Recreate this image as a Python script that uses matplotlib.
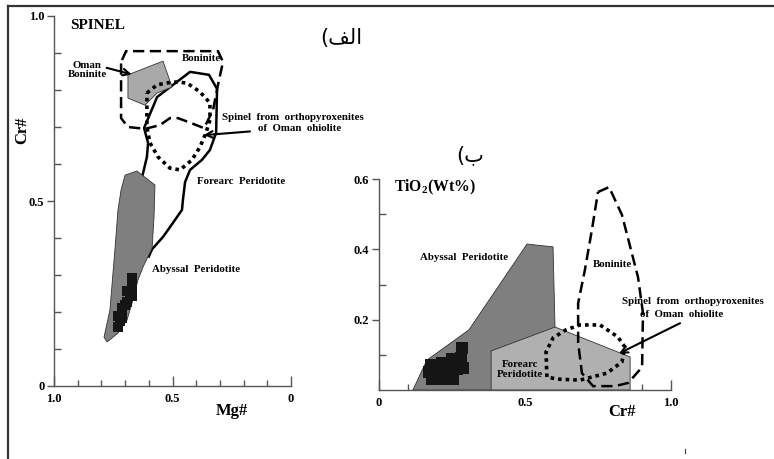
import matplotlib
matplotlib.use("Agg")
import matplotlib.pyplot as plt
from matplotlib.lines import Line2D

plt.rcParams["font.family"] = ["Liberation Serif", "DejaVu Serif"]
plt.rcParams["font.weight"] = "bold"
plt.rcParams["mathtext.fontset"] = "custom"
plt.rcParams["mathtext.rm"] = "Liberation Serif:bold"
plt.rcParams["mathtext.it"] = "Liberation Serif:bold"
plt.rcParams["mathtext.bf"] = "Liberation Serif:bold"

# ---------------- Panel A: Mg# vs Cr# (spinel) ----------------
boninite_a_mg = [0.713, 0.696, 0.308, 0.287, 0.308, 0.329, 0.367, 0.435, 0.477,
                 0.511, 0.553, 0.616, 0.688, 0.717, 0.717]
boninite_a_cr = [0.881, 0.905, 0.905, 0.876, 0.814, 0.746, 0.697, 0.714, 0.724,
                 0.724, 0.705, 0.695, 0.700, 0.724, 0.876]

oman_bon_mg = [0.688, 0.540, 0.502, 0.565, 0.616, 0.688]
oman_bon_cr = [0.841, 0.878, 0.808, 0.792, 0.759, 0.778]

forearc_a_mg = [0.640, 0.624, 0.608, 0.603, 0.620, 0.565, 0.426, 0.346, 0.312,
                0.316, 0.342, 0.376, 0.426, 0.447, 0.456, 0.460, 0.498, 0.540,
                0.586, 0.600]
forearc_a_cr = [0.540, 0.576, 0.619, 0.657, 0.697, 0.781, 0.849, 0.841, 0.803,
                0.684, 0.638, 0.611, 0.584, 0.551, 0.503, 0.476, 0.441, 0.403,
                0.370, 0.350]

opx_a_mg = [0.608, 0.565, 0.498, 0.439, 0.384, 0.342, 0.342, 0.359, 0.384,
            0.418, 0.468, 0.511, 0.561, 0.595, 0.608, 0.608]
opx_a_cr = [0.792, 0.814, 0.822, 0.819, 0.795, 0.765, 0.719, 0.684, 0.646,
            0.611, 0.584, 0.589, 0.619, 0.657, 0.700, 0.754]

abyssal_a_mg = [0.700, 0.650, 0.574, 0.578, 0.586, 0.624, 0.646, 0.667, 0.692,
                0.730, 0.776, 0.789, 0.764, 0.743, 0.730, 0.717]
abyssal_a_cr = [0.570, 0.581, 0.543, 0.457, 0.373, 0.322, 0.286, 0.232, 0.178,
                0.143, 0.119, 0.132, 0.205, 0.368, 0.476, 0.530]

samples_a_mg = [0.669, 0.669, 0.669, 0.680, 0.692, 0.692, 0.700, 0.711, 0.711,
                0.720, 0.730, 0.730]
samples_a_cr = [0.292, 0.265, 0.243, 0.250, 0.257, 0.227, 0.220, 0.211, 0.184,
                0.175, 0.189, 0.160]

# ---------------- Panel B: Cr# vs TiO2 ----------------
abyssal_b_cr = [0.116, 0.164, 0.308, 0.507, 0.596, 0.603, 0.603]
abyssal_b_ti = [0.000, 0.085, 0.171, 0.415, 0.407, 0.171, 0.000]

forearc_b_cr = [0.384, 0.384, 0.603, 0.860, 0.860]
forearc_b_ti = [0.000, 0.111, 0.179, 0.094, 0.000]

boninite_b_cr = [0.750, 0.788, 0.832, 0.887, 0.904, 0.901, 0.853, 0.808, 0.733,
                 0.695, 0.682, 0.682, 0.705, 0.729]
boninite_b_ti = [0.563, 0.577, 0.498, 0.321, 0.219, 0.065, 0.020, 0.011, 0.011,
                 0.048, 0.134, 0.247, 0.341, 0.455]

opx_b_cr = [0.575, 0.572, 0.596, 0.640, 0.688, 0.757, 0.818, 0.842, 0.832,
            0.781, 0.688, 0.610]
opx_b_ti = [0.037, 0.108, 0.148, 0.171, 0.185, 0.185, 0.151, 0.122, 0.080,
            0.048, 0.028, 0.031]

samples_b_cr = [0.178, 0.172, 0.180, 0.197, 0.216, 0.212, 0.220, 0.233, 0.250,
                0.246, 0.252, 0.267, 0.284, 0.280, 0.286]
samples_b_ti = [0.071, 0.050, 0.031, 0.050, 0.077, 0.054, 0.031, 0.050, 0.088,
                0.058, 0.030, 0.060, 0.119, 0.090, 0.062]

W, H = 774, 459
fig = plt.figure(figsize=(W / 100, H / 100), dpi=100)
fig.patch.set_facecolor("white")

# frame lines along top and left
fig.add_artist(Line2D([8 / W, 1.0], [1 - 6 / H, 1 - 6 / H], color="#333333", lw=1.6,
                      transform=fig.transFigure))
fig.add_artist(Line2D([8 / W, 8 / W], [0.0, 1 - 6 / H], color="#333333", lw=1.6,
                      transform=fig.transFigure))
fig.add_artist(Line2D([685 / W, 685 / W], [1 - 449 / H, 1 - 453 / H], color="#444444",
                      lw=0.8, transform=fig.transFigure))

DARK = "#7f7f7f"
LIGHT = "#b0b0b0"
SQ = "#151515"
dash = (0, (4.5, 2.2))
dots = (0, (1, 1.1))
LBL = 7.8


def style_axes(ax):
    for s in ("top", "right"):
        ax.spines[s].set_visible(False)
    for s in ("left", "bottom"):
        ax.spines[s].set_color("#555555")
        ax.spines[s].set_linewidth(1.0)
    ax.tick_params(axis="y", which="major", direction="out", length=5, width=1,
                   color="#555555", labelsize=9, pad=2)
    ax.tick_params(axis="y", which="minor", direction="in", length=5, width=1,
                   color="#555555")
    ax.tick_params(axis="x", which="major", direction="in", length=7, width=1,
                   color="#555555", labelsize=9, pad=5)
    ax.tick_params(axis="x", which="minor", direction="in", length=4, width=1,
                   color="#555555")
    ax.set_facecolor("none")


# ---------- Panel A ----------
ax1 = fig.add_axes([54 / W, (H - 386) / H, 237 / W, 370 / H])
ax1.set_xlim(1.0, 0.0)
ax1.set_ylim(0.0, 1.0)
style_axes(ax1)
ax1.set_xticks([1.0, 0.5, 0.0], ["1.0", "0.5", "0"])
ax1.set_xticks([0.9, 0.8, 0.7, 0.6, 0.4, 0.3, 0.2, 0.1], minor=True)
ax1.set_yticks([0.0, 0.5, 1.0], ["0", "0.5", "1.0"])
ax1.set_yticks([0.1, 0.2, 0.3, 0.4, 0.6, 0.7, 0.8, 0.9], minor=True)
for lab in ax1.get_xticklabels() + ax1.get_yticklabels():
    lab.set_fontweight("bold")

ax1.plot(forearc_a_mg, forearc_a_cr, color="black", lw=1.8, zorder=2)
ax1.fill(boninite_a_mg, boninite_a_cr, facecolor="none", edgecolor="black", lw=1.8,
         linestyle=dash, zorder=3)
ax1.fill(oman_bon_mg, oman_bon_cr, facecolor="#a9a9a9", edgecolor="#333333", lw=0.6,
         zorder=2.5)
ax1.fill(opx_a_mg, opx_a_cr, facecolor="none", edgecolor="black", lw=2.6,
         linestyle=dots, zorder=3)
ax1.fill(abyssal_a_mg, abyssal_a_cr, facecolor=DARK, edgecolor="#333333", lw=0.6,
         zorder=4)
ax1.plot(samples_a_mg, samples_a_cr, linestyle="none", marker="s", ms=7.5,
         color=SQ, markeredgewidth=0, zorder=5)

ax1.text(0.38, 0.886, "Boninite", fontsize=LBL, ha="center", va="center", zorder=6)
ax1.text(0.861, 0.854, "Oman\nBoninite", fontsize=LBL, ha="center", va="center",
         linespacing=1.05)
ax1.annotate("", xy=(0.672, 0.842), xytext=(0.778, 0.860),
             arrowprops=dict(arrowstyle="->", lw=1.5, color="black",
                             mutation_scale=12, shrinkA=0, shrinkB=0))
ax1.text(0.397, 0.553, "Forearc  Peridotite", fontsize=LBL, ha="left", va="center")
ax1.text(0.586, 0.314, "Abyssal  Peridotite", fontsize=LBL, ha="left", va="center")
ax1.text(-0.010, 0.727, "Spinel  from  orthopyroxenites", fontsize=LBL, ha="center",
         va="center", clip_on=False)
ax1.text(-0.038, 0.697, "of  Oman  ohiolite", fontsize=LBL, ha="center", va="center",
         clip_on=False)
ax1.annotate("", xy=(0.368, 0.678), xytext=(0.173, 0.688),
             arrowprops=dict(arrowstyle="->", lw=1.5, color="black",
                             mutation_scale=12, shrinkA=0, shrinkB=0))
ax1.text(0.93, 0.973, "SPINEL", fontsize=11, ha="left", va="center")
fig.text(22 / W, 1 - 130 / H, "Cr#", fontsize=12, rotation=90, ha="center",
         va="center")
fig.text(232 / W, 1 - 411 / H, "Mg#", fontsize=12, ha="center", va="center")

# ---------- Panel B ----------
ax2 = fig.add_axes([379 / W, (H - 390) / H, 292 / W, 211 / H])
ax2.set_xlim(0.0, 1.0)
ax2.set_ylim(0.0, 0.6)
style_axes(ax2)
ax2.set_xticks([0.0, 0.5, 1.0], ["0", "0.5", "1.0"])
ax2.set_xticks([0.1, 0.2, 0.3, 0.4, 0.6, 0.7, 0.8, 0.9], minor=True)
ax2.set_yticks([0.2, 0.4, 0.6], ["0.2", "0.4", "0.6"])
ax2.set_yticks([0.1, 0.3, 0.5], minor=True)
for lab in ax2.get_xticklabels() + ax2.get_yticklabels():
    lab.set_fontweight("bold")

ax2.fill(abyssal_b_cr, abyssal_b_ti, facecolor=DARK, edgecolor="#333333", lw=0.6,
         zorder=2)
ax2.fill(forearc_b_cr, forearc_b_ti, facecolor=LIGHT, edgecolor="#333333", lw=0.6,
         zorder=2.5)
ax2.fill(boninite_b_cr, boninite_b_ti, facecolor="none", edgecolor="black", lw=1.8,
         linestyle=dash, zorder=3)
ax2.fill(opx_b_cr, opx_b_ti, facecolor="none", edgecolor="black", lw=2.6,
         linestyle=dots, zorder=3)
ax2.plot(samples_b_cr, samples_b_ti, linestyle="none", marker="s", ms=8,
         color=SQ, markeredgewidth=0, zorder=5)

ax2.text(0.291, 0.378, "Abyssal  Peridotite", fontsize=LBL, ha="center", va="center")
ax2.text(0.798, 0.358, "Boninite", fontsize=LBL, ha="center", va="center")
ax2.text(0.483, 0.057, "Forearc\nPeridotite", fontsize=LBL, ha="center", va="center",
         linespacing=1.15, zorder=6)
ax2.text(1.075, 0.253, "Spinel  from  orthopyroxenites", fontsize=LBL, ha="center",
         va="center", clip_on=False)
ax2.text(1.038, 0.216, "of  Oman  ohiolite", fontsize=LBL, ha="center", va="center",
         clip_on=False)
ax2.annotate("", xy=(0.822, 0.104), xytext=(1.031, 0.190),
             arrowprops=dict(arrowstyle="->", lw=1.5, color="black",
                             mutation_scale=12, shrinkA=0, shrinkB=0))
ax2.text(0.05, 0.575, "TiO$_2$(Wt%)", fontsize=11.3, ha="left", va="center")
fig.text(622 / W, 1 - 412 / H, "Cr#", fontsize=12, ha="center", va="center")

# Persian panel letters (visual order, presentation forms)
fig.text(341 / W, 1 - 38 / H, "(\uFED2\uFEDF\uFE8D", fontsize=15,
         family=["DejaVu Sans"], fontweight="normal", ha="center", va="center")
fig.text(470 / W, 1 - 155 / H, "(\uFE8F", fontsize=15, family=["DejaVu Sans"],
         fontweight="normal", ha="center", va="center")

fig.savefig("out.png", dpi=100)
